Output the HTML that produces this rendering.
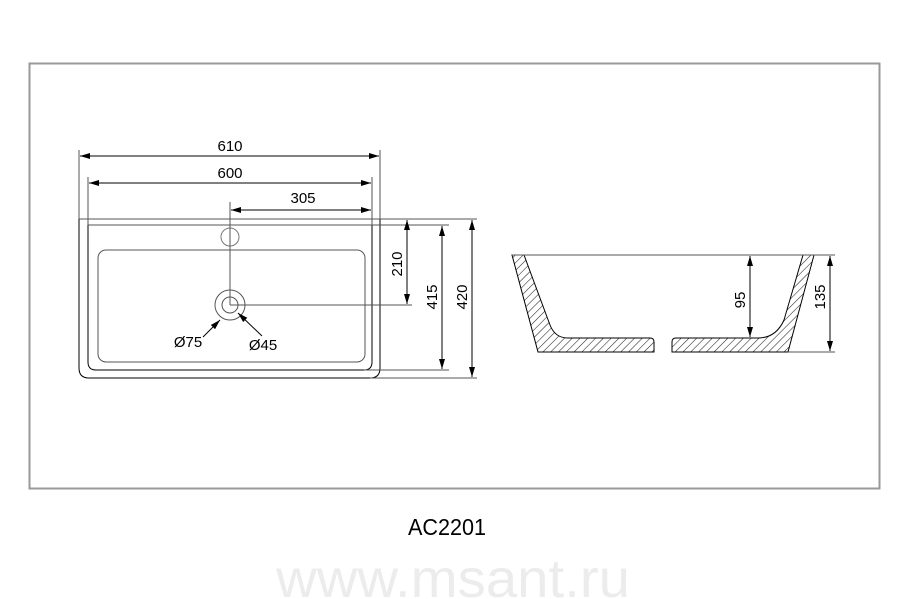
<!DOCTYPE html>
<html><head><meta charset="utf-8"><style>html,body{margin:0;padding:0;background:#fff}svg{display:block}</style></head>
<body>
<svg width="900" height="599" viewBox="0 0 900 599" xmlns="http://www.w3.org/2000/svg" font-family="Liberation Sans, sans-serif">
<defs>
<marker id="a" viewBox="0 0 10 6" refX="10" refY="3" markerWidth="10" markerHeight="6" markerUnits="userSpaceOnUse" orient="auto-start-reverse"><path d="M0,0L10,3L0,6z" fill="#000"/></marker>
<pattern id="h" patternUnits="userSpaceOnUse" width="5.5" height="5.5" patternTransform="rotate(45)"><line x1="0" y1="0" x2="0" y2="5.5" stroke="#222" stroke-width="1.1"/></pattern>
</defs>
<rect x="29.5" y="63.5" width="850" height="425" fill="none" stroke="#999" stroke-width="2"/>
<g stroke="#000" stroke-width="1" fill="none">
<path d="M79,219 V368 Q79,378 89,378 H370 Q380,378 380,368 V219"/>
<line x1="79" y1="219" x2="477" y2="219" stroke="#555"/>
<path d="M88,225 V362 Q88,370 96,370 H364 Q372,370 372,362 V225"/>
<line x1="88" y1="225" x2="449" y2="225" stroke="#555"/>
<line x1="364" y1="370" x2="449" y2="370" stroke="#555"/>
<line x1="370" y1="378" x2="477" y2="378" stroke="#555"/>
<rect x="98" y="250" width="267" height="112" rx="8" stroke="#555"/>
<circle cx="230" cy="237" r="9" stroke="#777"/>
<circle cx="230" cy="305" r="15" stroke="#555"/>
<circle cx="230" cy="305" r="8" stroke="#555"/>
<line x1="230" y1="202" x2="230" y2="305" stroke="#555"/>
<line x1="230" y1="305" x2="412" y2="305" stroke="#555"/>
<line x1="79" y1="150" x2="79" y2="219" stroke="#555"/>
<line x1="380" y1="150" x2="380" y2="219" stroke="#555"/>
<line x1="88" y1="177" x2="88" y2="225" stroke="#555"/>
<line x1="372" y1="177" x2="372" y2="225" stroke="#555"/>
<line x1="80" y1="156" x2="379" y2="156" marker-start="url(#a)" marker-end="url(#a)"/>
<line x1="89" y1="183" x2="371" y2="183" marker-start="url(#a)" marker-end="url(#a)"/>
<line x1="231" y1="210" x2="371" y2="210" marker-start="url(#a)" marker-end="url(#a)"/>
<line x1="407" y1="220" x2="407" y2="304" marker-start="url(#a)" marker-end="url(#a)"/>
<line x1="442" y1="226" x2="442" y2="369" marker-start="url(#a)" marker-end="url(#a)"/>
<line x1="472" y1="220" x2="472" y2="377" marker-start="url(#a)" marker-end="url(#a)"/>
<line x1="203" y1="337" x2="220" y2="320" marker-end="url(#a)"/>
<line x1="262" y1="336" x2="238" y2="313" marker-end="url(#a)"/>
<path d="M512,255 L538,352 H654 V342 Q654,338 650,338 H568 Q555,338 550,325 L524,255 Z" fill="url(#h)"/>
<path d="M814,255 L788,352 H672 V342 Q672,338 676,338 H758 Q776,338 784,320 L803,255 Z" fill="url(#h)"/>
<line x1="512" y1="255" x2="835" y2="255" stroke="#555"/>
<line x1="788" y1="352" x2="835" y2="352" stroke="#555"/>
<line x1="750" y1="256" x2="750" y2="337" marker-start="url(#a)" marker-end="url(#a)"/>
<line x1="830" y1="256" x2="830" y2="351" marker-start="url(#a)" marker-end="url(#a)"/>
</g>
<g font-size="15" fill="#000" text-anchor="middle">
<text x="230" y="151">610</text>
<text x="230" y="178">600</text>
<text x="303" y="203">305</text>
<text transform="translate(402,264) rotate(-90)">210</text>
<text transform="translate(437,297) rotate(-90)">415</text>
<text transform="translate(467,297) rotate(-90)">420</text>
<text x="188" y="347">Ø75</text>
<text x="263" y="350">Ø45</text>
<text transform="translate(745,300) rotate(-90)">95</text>
<text transform="translate(825,297) rotate(-90)">135</text>
</g>
<text x="447" y="535" font-size="23" text-anchor="middle" textLength="78" lengthAdjust="spacingAndGlyphs">AC2201</text>
<text x="276" y="597" font-size="54" fill="#ececec" textLength="354" lengthAdjust="spacingAndGlyphs">www.msant.ru</text>
</svg>
</body></html>
